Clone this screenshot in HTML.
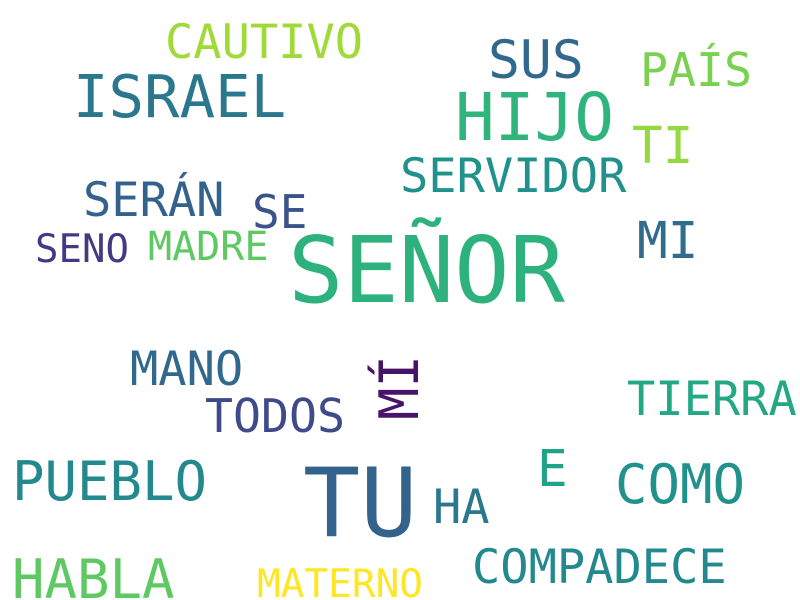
<!DOCTYPE html>
<html>
<head>
<meta charset="utf-8">
<style>
  html,body{margin:0;padding:0;background:#fff;}
  svg{display:block;}
  text{font-family:"DejaVu Sans Mono","Liberation Mono",monospace;}
</style>
</head>
<body>
<svg width="800" height="600" viewBox="0 0 800 600">
<rect width="800" height="600" fill="#fff"/>
<g id="words"></g>
</svg>
<script>
const words = ["SEÑOR","TU","HIJO","ISRAEL","CAUTIVO","SUS","PAÍS","TI","SERVIDOR","SERÁN","SE","SENO","MADRE","MI","MANO","MÍ","TODOS","TIERRA","PUEBLO","E","COMO","HA","HABLA","MATERNO","COMPADECE"];
const sizes = [92,95,66,59,47,53,46.5,51,47,47,46,39,40,51,47,54,46.5,47,54,51,54,47,54,39.4,47];
const colors = ["#2db27d","#33638d","#2fb47c","#2a788e","#a0da39","#31688e","#7ad151","#95d840","#21918c","#33638d","#3b528b","#443983","#5ec962","#2f6c8e","#31688e","#481467","#3e4a89","#22a884","#23898e","#20a386","#21918c","#2a788e","#5ec962","#fde725","#23898e"];
const xs = [288,303,455,73,165,488,640,632,400,83,252,35,148,637,130,418,205,627,12,537,615,433,12,257,472];
const ys = [302,536,140,117,58,78,86,163,192,216,228,262,260,258,385,420,432,415,500,486,503,523,598,597,583];
const vertical = [false,false,false,false,false,false,false,false,false,false,false,false,false,false,false,true,false,false,false,false,false,false,false,false,false];
const g = document.getElementById('words');
const NS = "http://www.w3.org/2000/svg";
words.forEach((w,i)=>{
  const t = document.createElementNS(NS,'text');
  t.textContent = w;
  t.setAttribute('font-size', sizes[i]);
  t.setAttribute('fill', colors[i]);
  if (vertical[i]) {
    t.setAttribute('transform', `translate(${xs[i]},${ys[i]}) rotate(-90)`);
  } else {
    t.setAttribute('x', xs[i]);
    t.setAttribute('y', ys[i]);
  }
  
  
  g.appendChild(t);
});
</script>
</body>
</html>
